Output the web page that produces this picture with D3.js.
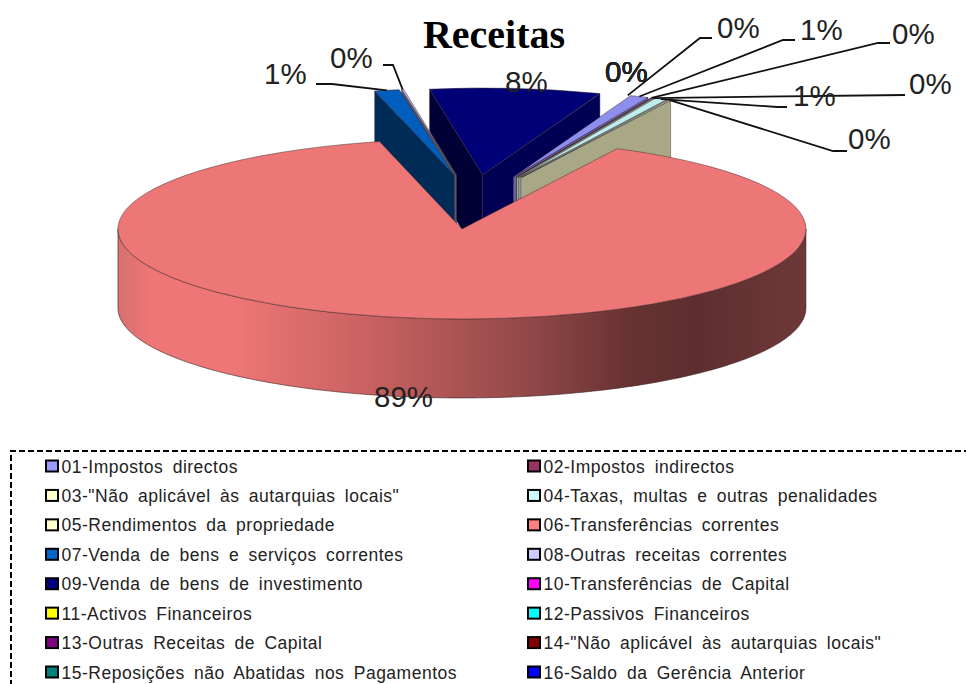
<!DOCTYPE html>
<html>
<head>
<meta charset="utf-8">
<script src="https://cdn.jsdelivr.net/npm/d3@7"></script>
<style>
  html, body { margin: 0; padding: 0; background: #fff; overflow: hidden; }
  svg { display: block; }
</style>
</head>
<body>
<script>
const width = 966;
const height = 684;

const categories = [
  '01-Impostos directos', '02-Impostos indirectos',
  '03-"Não aplicável às autarquias locais"', '04-Taxas, multas e outras penalidades',
  '05-Rendimentos da propriedade', '06-Transferências correntes',
  '07-Venda de bens e serviços correntes', '08-Outras receitas correntes',
  '09-Venda de bens de investimento', '10-Transferências de Capital',
  '11-Activos Financeiros', '12-Passivos Financeiros',
  '13-Outras Receitas de Capital', '14-"Não aplicável às autarquias locais"',
  '15-Reposições não Abatidas nos Pagamentos', '16-Saldo da Gerência Anterior'
];
const values = [0.9, 0.05, 0.05, 0.6, 0.1, 88.7, 1.2, 0.1, 8.3, 0, 0, 0, 0, 0, 0, 0];
const colors = [
  '#9999ff', '#993366', '#ffffcc', '#ccffff', '#ffffcc', '#ff8080', '#0066cc', '#ccccff',
  '#000080', '#ff00ff', '#ffff00', '#00ffff', '#800080', '#800000', '#008080', '#0000ff'
];

// where each percentage sits, and the elbow of its leader line when it has one
const labelSpots = [
  [800, 40, 783, 40, 795, 40], [892, 44, 878, 43, 890, 43], [909, 94, 905, 95, 905, 95],
  [793, 106, 777, 107, 787, 107], [848, 149, 833, 151, 847, 151], [374, 407],
  [264, 84, 332, 84, 316, 84], [330, 68, 393, 65, 383, 65], [505, 92],
  [605, 82], [605, 82], [605, 82], [605, 82], [605, 82], [605, 82],
  [717, 38, 700, 38, 712, 38]
];

// pie geometry
const cx = 471.5, cy = 203.5;
const squash = 0.2616;
const bigIndex = 5;
const radius = i => i === bigIndex ? 344 : 332;
const explode = i => i === bigIndex ? 98 : 110;
const depth = i => i === bigIndex ? 79 : 88;
// small hand corrections to where a wedge landed
const apexNudge = { 5: [1.5, 0], 6: [5, 0], 7: [3, 0] };

const svg = d3.select('body').append('svg').attr('width', width).attr('height', height);

const defs = svg.append('defs');
const wallGrad = defs.append('linearGradient')
  .attr('id', 'wallGrad').attr('gradientUnits', 'userSpaceOnUse')
  .attr('x1', 118).attr('x2', 806).attr('y1', 0).attr('y2', 0);
[[0, '#d87070'], [0.05, '#ee7676'], [0.17, '#ee7676'], [0.375, '#c66060'], [0.58, '#964a4a'], [0.745, '#683232'], [0.84, '#5e2e2e'], [1, '#6e3838']]
  .forEach(s => wallGrad.append('stop').attr('offset', s[0]).attr('stop-color', s[1]));

const startAngle = 20.7 * Math.PI / 180;
const pie = d3.pie().sort(null).value(d => d).startAngle(startAngle).endAngle(startAngle + 2 * Math.PI);
const slices = pie(values).map((d, i) => {
  const mid = (d.startAngle + d.endAngle) / 2;
  const e = explode(i);
  const n = apexNudge[i] || [0, 0];
  return {
    ...d, i, mid,
    ax: cx + e * Math.sin(mid) + n[0],
    ay: cy - e * squash * Math.cos(mid) + n[1],
    r: radius(i)
  };
});

const rim = (s, a) => [s.ax + s.r * Math.sin(a), s.ay - s.r * squash * Math.cos(a)];
const shade = (c, k) => {
  const o = d3.rgb(c);
  return d3.rgb(o.r * k, o.g * k, o.b * k).formatHex();
};
const line = d3.line();
const edgeLine = '#33222a';

const pieG = svg.append('g');
const drawn = slices.filter(s => s.value > 0).sort((a, b) => d3.descending(Math.cos(a.mid), Math.cos(b.mid)));

drawn.forEach(s => {
  const g = pieG.append('g');
  const c = colors[s.i];
  const dz = depth(s.i);

  if (s.i === bigIndex) {
    // outer wall, front half of the rim only
    const a0 = Math.PI / 2, a1 = 3 * Math.PI / 2;
    const pts = d3.range(0, 121).map(k => rim(s, a0 + (a1 - a0) * k / 120));
    const wall = pts.concat(pts.slice().reverse().map(p => [p[0], p[1] + dz]));
    g.append('path').attr('d', line(wall) + 'Z')
      .attr('fill', 'url(#wallGrad)').attr('stroke', '#3a2222').attr('stroke-width', 0.6);
  } else {
    // flat walls that face the viewer
    const walls = [];
    if (Math.sin(s.startAngle) < 0) walls.push([s.startAngle, 0.42]);
    if (Math.sin(s.endAngle) > 0) walls.push([s.endAngle, 0.66]);
    walls.forEach(w => {
      const p = rim(s, w[0]);
      g.append('path')
        .attr('d', line([[s.ax, s.ay], p, [p[0], p[1] + dz], [s.ax, s.ay + dz]]) + 'Z')
        .attr('fill', shade(c, w[1]))
        .attr('stroke', edgeLine).attr('stroke-width', 0.4);
    });
  }

  const arc = d3.arc().innerRadius(0).outerRadius(s.r);
  g.append('path')
    .attr('d', arc({ startAngle: s.startAngle, endAngle: s.endAngle }))
    .attr('transform', `translate(${s.ax},${s.ay}) scale(1,${squash})`)
    .attr('fill', shade(c, 0.93))
    .attr('stroke', s.i === bigIndex ? '#4a2a2a' : edgeLine)
    .attr('stroke-width', 0.5)
    .attr('vector-effect', 'non-scaling-stroke');
});

// leader lines
slices.forEach(s => {
  const spot = labelSpots[s.i];
  if (spot.length < 6) return;
  const start = rim(s, s.mid);
  svg.append('path')
    .attr('d', line([start, [spot[2], spot[3]], [spot[4], spot[5]]]))
    .attr('fill', 'none').attr('stroke', '#111').attr('stroke-width', 1.8);
});

// percentage labels
const pct = v => `${Math.round(v)}%`;
svg.append('g').selectAll('text')
  .data(slices)
  .join('text')
  .attr('x', s => labelSpots[s.i][0])
  .attr('y', s => labelSpots[s.i][1])
  .attr('font-family', '"Liberation Sans", Arial, sans-serif')
  .attr('font-size', 29.5)
  .attr('fill', '#222')
  .text(s => pct(s.value));

svg.append('text')
  .attr('x', 494).attr('y', 47.5)
  .attr('text-anchor', 'middle')
  .attr('font-family', '"Liberation Serif", "Times New Roman", serif')
  .attr('font-weight', 'bold')
  .attr('font-size', 40)
  .attr('fill', '#000')
  .text('Receitas');

// legend frame runs off the right and bottom of the picture
svg.append('path')
  .attr('d', line([[width + 4, 451], [11, 451], [11, height + 4]]))
  .attr('fill', 'none').attr('stroke', '#000').attr('stroke-width', 2)
  .attr('stroke-dasharray', '6,3');

const rowY = d3.scaleLinear().domain([0, 7]).range([466.5, 672.5]);
const colX = d3.scaleOrdinal().domain([0, 1]).range([46, 528]);

const legend = svg.append('g').selectAll('g')
  .data(categories)
  .join('g')
  .attr('transform', (d, i) => `translate(${colX(i % 2)},${rowY(Math.floor(i / 2))})`);

legend.append('rect')
  .attr('x', 0).attr('y', -6).attr('width', 12).attr('height', 11)
  .attr('fill', (d, i) => colors[i])
  .attr('stroke', '#000').attr('stroke-width', 2);

legend.append('text')
  .attr('x', 15.5).attr('y', 6)
  .attr('font-family', '"Liberation Sans", Arial, sans-serif')
  .attr('font-size', 17.5)
  .attr('word-spacing', 4)
  .attr('letter-spacing', 0.5)
  .attr('fill', '#222')
  .text(d => d);
</script>
</body>
</html>
